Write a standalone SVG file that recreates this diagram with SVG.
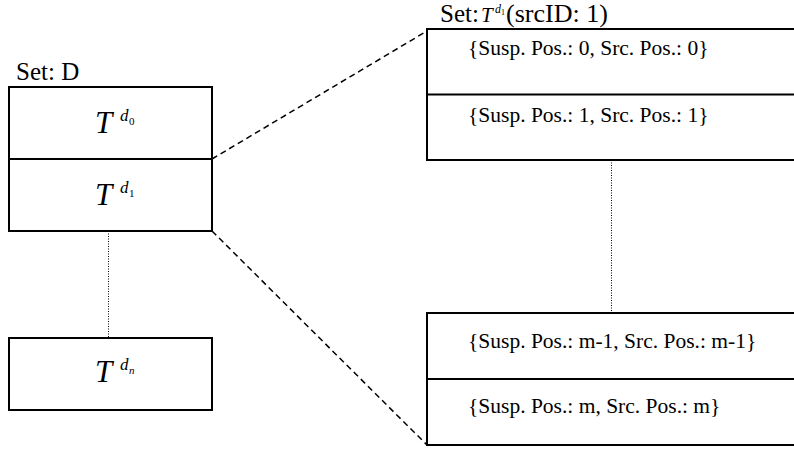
<svg xmlns="http://www.w3.org/2000/svg" width="794" height="450" viewBox="0 0 794 450">
<style>
.box{fill:#fff;stroke:#000;stroke-width:2}
.div{stroke:#000;stroke-width:2}
.dash{stroke:#000;stroke-width:1.5;stroke-dasharray:6 4;fill:none}
.dot{stroke:#000;stroke-width:1;stroke-dasharray:1 1.5;fill:none}
text{font-family:'Liberation Serif','Times New Roman',serif;fill:#000}
.hdr{font-size:25px}
.ent{font-size:21.5px}
.T{font-style:italic;font-size:31px}
.sup{font-style:italic;font-size:17px}
.sub{font-size:11px}
</style>
<rect width="794" height="450" fill="#fff"/>
<g id="connectors">
<line class="dash" x1="212" y1="159" x2="427" y2="31"/>
<line class="dash" x1="212" y1="231" x2="427" y2="445"/>
<line class="dot" x1="108.5" y1="231" x2="108.5" y2="338"/>
<line class="dot" x1="611.5" y1="160" x2="611.5" y2="313"/>
</g>
<g id="setD">
<text class="hdr" x="16" y="80">Set: D</text>
<rect class="box" x="9" y="87" width="203" height="144"/>
<line class="div" x1="9" y1="159" x2="212" y2="159"/>
<g id="td0">
<text class="T" x="95" y="133">T</text>
<text class="sup" x="120" y="121">d</text>
<text class="sub" x="129" y="125">0</text>
</g>
<g id="td1">
<text class="T" x="95" y="205">T</text>
<text class="sup" x="120" y="193">d</text>
<text class="sub" x="129" y="197">1</text>
</g>
</g>
<g id="tdn">
<rect class="box" x="9" y="338" width="203" height="72"/>
<text class="T" x="95" y="382">T</text>
<text class="sup" x="120" y="370">d</text>
<text class="sub" x="129" y="374" font-style="italic">n</text>
</g>
<g id="setTd1">
<text class="hdr" x="440" y="22">Set:</text>
<text x="481" y="22" font-style="italic" font-size="21">T</text>
<text x="495" y="13" font-style="italic" font-size="12">d</text>
<text x="501" y="15" font-size="8">1</text>
<text x="506" y="22" font-size="26">(srcID: 1)</text>
</g>
<g id="topEntries">
<rect class="box" x="427" y="29" width="373" height="131"/>
<line class="div" x1="427" y1="94.5" x2="800" y2="94.5"/>
<text class="ent" x="468" y="55">{Susp. Pos.: 0, Src. Pos.: 0}</text>
<text class="ent" x="468" y="122">{Susp. Pos.: 1, Src. Pos.: 1}</text>
</g>
<g id="bottomEntries">
<rect class="box" x="427" y="313" width="373" height="132"/>
<line class="div" x1="427" y1="379" x2="800" y2="379"/>
<text class="ent" x="468" y="348">{Susp. Pos.: m-1, Src. Pos.: m-1}</text>
<text class="ent" x="468" y="413">{Susp. Pos.: m, Src. Pos.: m}</text>
</g>
</svg>
